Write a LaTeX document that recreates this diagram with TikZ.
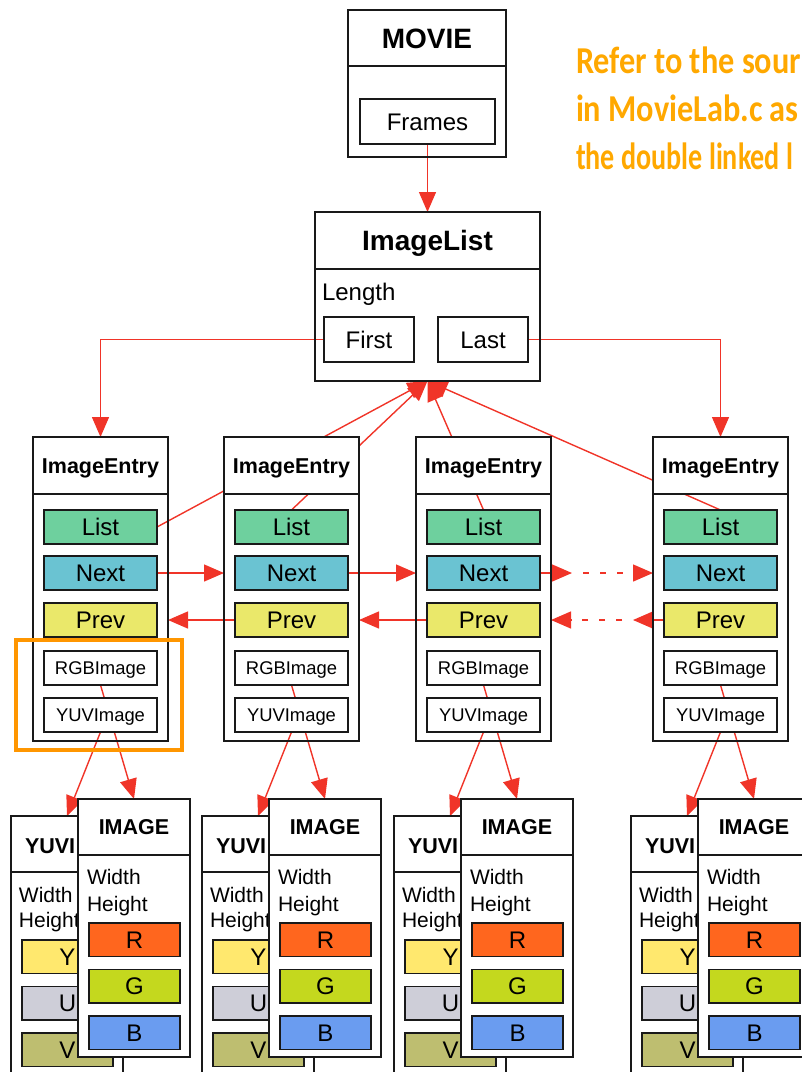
\documentclass[tikz,border=0pt]{standalone}
\usepackage{fontspec}
\setmainfont{Liberation Sans}
\newfontfamily\handfont[FakeStretch=0.85]{Carlito}
\usetikzlibrary{arrows.meta}
\pgfdeclarelayer{bg}
\pgfsetlayers{bg,main}

\definecolor{linered}{RGB}{240,52,40}
\definecolor{hiorange}{RGB}{255,150,0}
\definecolor{txtorange}{RGB}{255,168,0}
\definecolor{clist}{RGB}{110,208,158}
\definecolor{cnext}{RGB}{106,195,210}
\definecolor{cprev}{RGB}{234,232,106}
\definecolor{cyy}{RGB}{255,232,110}
\definecolor{cuu}{RGB}{206,206,216}
\definecolor{cvv}{RGB}{190,190,112}
\definecolor{crr}{RGB}{255,102,30}
\definecolor{cgg}{RGB}{196,216,30}
\definecolor{cbb}{RGB}{106,156,240}
\definecolor{ink}{RGB}{25,25,25}

\begin{document}
\begin{tikzpicture}[x=1pt,y=-1pt,
  every node/.style={inner sep=0pt,outer sep=0pt,text=black},
  frame/.style={draw=ink,line width=1.3pt},
  hdr/.style={frame,fill=white,anchor=north west},
  bodyopen/.style={frame,anchor=north west},
  bodyfill/.style={frame,fill=white,anchor=north west},
  bigtitle/.style={font=\fontsize{28}{32}\selectfont\bfseries,text height=20.2pt,text depth=0pt},
  title/.style={font=\fontsize{21.5}{25}\selectfont\bfseries,text height=15.5pt,text depth=0pt},
  fld/.style={frame,anchor=north west,font=\fontsize{24}{28}\selectfont,text height=17.3pt,text depth=0pt},
  fldw/.style={fld,minimum width=113pt,minimum height=34pt},
  fldc/.style={fld,minimum width=91pt,minimum height=33.5pt},
  small/.style={frame,fill=white,anchor=north west,font=\fontsize{18.4}{22}\selectfont,text height=13.2pt,text depth=0pt,minimum width=113pt,minimum height=34pt},
  lbl/.style={anchor=west,font=\fontsize{21}{24}\selectfont,text height=15.1pt,text depth=0pt},
  note/.style={anchor=base west,font=\handfont\bfseries\fontsize{38}{44}\selectfont,text=txtorange},
  arr/.style={color=linered,line width=1.4pt,-{Triangle[length=20pt,width=17pt]}},
  dotted arr/.style={arr,dash pattern=on 6pt off 11pt,dash phase=6pt}
]
\clip (0,0) rectangle (802,1072);

% MOVIE
\node[hdr,bigtitle,minimum width=158pt,minimum height=56pt] (mv) at (348,10) {MOVIE};
\node[bodyopen,minimum width=158pt,minimum height=91pt] (mvb) at (348,66) {};
\node[fld,fill=white,minimum width=135pt,minimum height=45pt] (mvf) at (360,99) {Frames};

% ImageList
\node[hdr,bigtitle,minimum width=225pt,minimum height=57pt] (il) at (315,212) {ImageList};
\node[bodyopen,minimum width=225pt,minimum height=112pt] (ilb) at (315,269) {};
\node[lbl,font=\fontsize{24}{28}\selectfont,text height=17.3pt] (ilen) at (322,291.5) {Length};
\node[fld,fill=white,minimum width=90pt,minimum height=45pt] (ilf) at (324,317) {First};
\node[fld,fill=white,minimum width=90pt,minimum height=45pt] (ila) at (438,317) {Last};

% note
\node[note] (nt1) at (576,73) {Refer to the sour};
\node[note] (nt2) at (576,121) {in MovieLab.c as};
\node[note] (nt3) at (576,169) {\scalebox{0.87}[1]{the double linked l}};

% entries and image structs
\foreach \i/\L in {1/33,2/224,3/416,4/653}{
  \node[hdr,title,minimum width=135pt,minimum height=57pt] (e\i) at (\L,437) {ImageEntry};
  \node[bodyopen,minimum width=135pt,minimum height=247pt] (eb\i) at (\L,494) {};
  \node[fldw,fill=clist] (el\i) at (\L+11,510) {List};
  \node[fldw,fill=cnext] (en\i) at (\L+11,556) {Next};
  \node[fldw,fill=cprev] (ep\i) at (\L+11,603) {Prev};
  \node[small] (er\i) at (\L+11,651) {RGBImage};
  \node[small] (ey\i) at (\L+11,698) {YUVImage};
  % YUVImage struct
  \node[hdr,minimum width=112pt,minimum height=56pt] (sy\i) at (\L-22,816) {};
  \node[bodyfill,minimum width=112pt,minimum height=230pt] (syb\i) at (\L-22,872) {};
  \node[title,anchor=west] (syt\i) at (\L-8,846) {YUVI};
  \node[lbl] (syw\i) at (\L-14,895) {Width};
  \node[lbl] (syh\i) at (\L-14,920) {Height};
  \node[fldc,fill=cyy] (cy\i) at (\L-11,940) {Y};
  \node[fldc,fill=cuu] (cu\i) at (\L-11,986.5) {U};
  \node[fldc,fill=cvv] (cv\i) at (\L-11,1033) {V};
  % IMAGE struct
  \node[hdr,title,minimum width=112pt,minimum height=56pt] (sm\i) at (\L+45,799) {IMAGE};
  \node[bodyfill,minimum width=112pt,minimum height=202pt] (smb\i) at (\L+45,855) {};
  \node[lbl] (smw\i) at (\L+54,877) {Width};
  \node[lbl] (smh\i) at (\L+54,904) {Height};
  \node[fldc,fill=crr] (cr\i) at (\L+56,923) {R};
  \node[fldc,fill=cgg] (cg\i) at (\L+56,969.5) {G};
  \node[fldc,fill=cbb] (cb\i) at (\L+56,1016) {B};
}

\coordinate (n3m) at (572,573);
\coordinate (p4m) at (633,620);

% highlight
\node[draw=hiorange,line width=4.5pt,minimum width=166pt,minimum height=110pt,anchor=north west] (hl) at (16,640) {};

\begin{pgfonlayer}{bg}
  \draw[arr] (mvf.south) -- (il.north);
  \draw[arr] (ilf.west) -| (e1.north);
  \draw[arr] (ila.east) -| (e4.north);
  \draw[arr] (el1.east) -- (ilb.south);
  \draw[arr] (el2.north) -- (ilb.south);
  \draw[arr] (el3.north) -- (ilb.south);
  \draw[arr] (el4.north) -- (ilb.south);
  \draw[arr] (en1.east) -- (en1.east -| eb2.west);
  \draw[arr] (en2.east) -- (en2.east -| eb3.west);
  \draw[arr] (en3.east) -- (n3m);
  \draw[dotted arr] (n3m) -- (en3.east -| eb4.west);
  \draw[arr] (ep2.west) -- (ep2.west -| eb1.east);
  \draw[arr] (ep3.west) -- (ep3.west -| eb2.east);
  \draw[arr] (ep4.west) -- (p4m);
  \draw[dotted arr] (p4m) -- (ep4.west -| eb3.east);
  \foreach \i in {1,2,3,4}{
    \draw[arr] (er\i.south) -- (sm\i.north);
    \draw[arr] (ey\i.south) -- (sy\i.north);
  }
\end{pgfonlayer}
\end{tikzpicture}
\end{document}
